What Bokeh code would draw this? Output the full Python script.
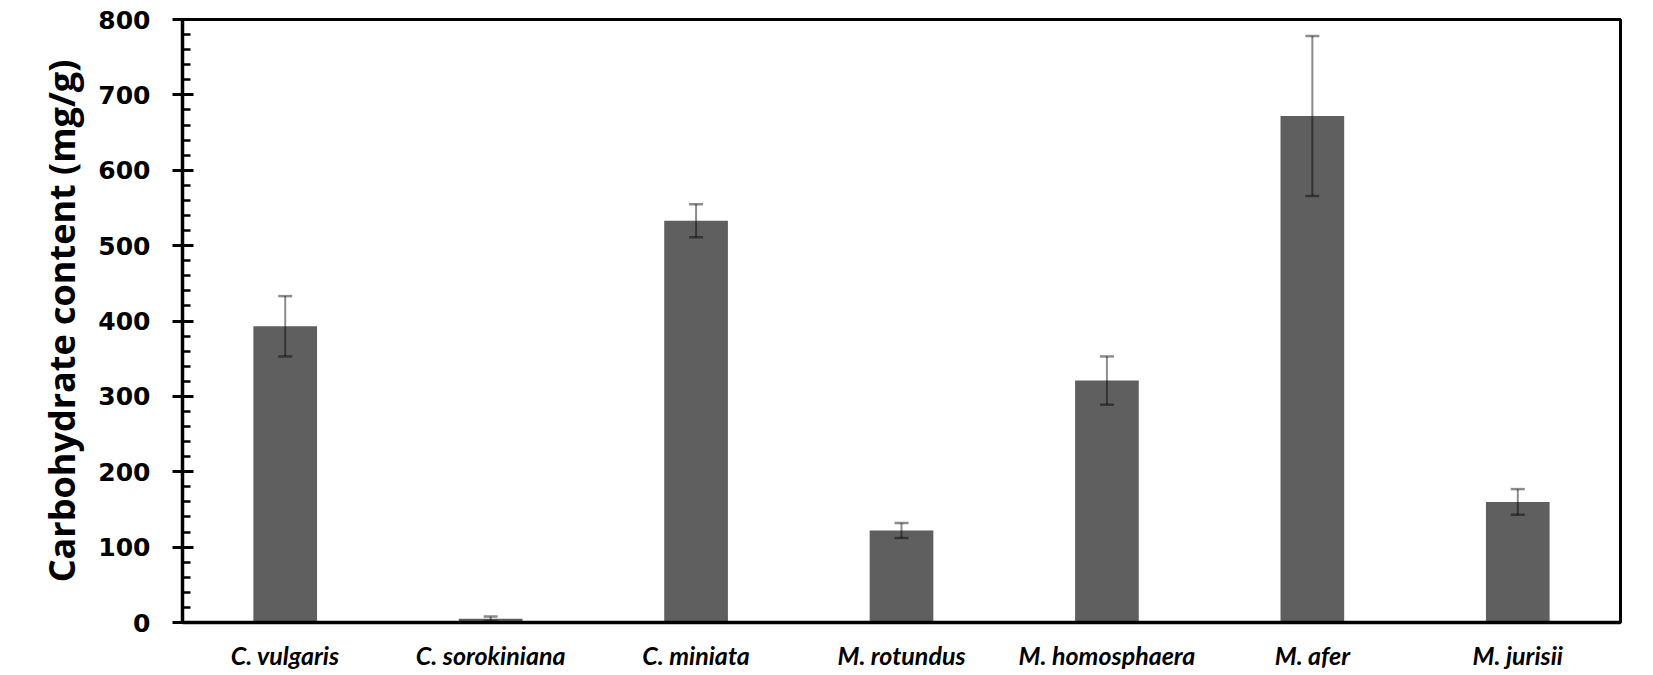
from bokeh.plotting import figure
from bokeh.models import ColumnDataSource, FactorRange, Range1d, SingleIntervalTicker, Whisker, TeeHead
from bokeh.embed import file_html
from bokeh.resources import INLINE

# Carbohydrate content per strain (mg/g), mean and error
species = ["C. vulgaris", "C. sorokiniana", "C. miniata", "M. rotundus",
           "M. homosphaera", "M. afer", "M. jurisii"]
carbohydrate = [393, 5, 533, 122, 321, 672, 160]
error = [40, 3, 22, 10, 32, 106, 17]

source = ColumnDataSource(data=dict(
    species=species,
    value=carbohydrate,
    upper=[v + e for v, e in zip(carbohydrate, error)],
    lower=[v - e for v, e in zip(carbohydrate, error)],
))

p = figure(
    width=1653, height=675,
    x_range=FactorRange(*species, range_padding=0),
    y_range=Range1d(0, 800),
    output_backend="svg", toolbar_location=None, tools="",
    min_border_left=182, min_border_right=33, min_border_top=19, min_border_bottom=53,
)

p.vbar(x="species", top="value", width=0.31, source=source,
       fill_color="#5f5f5f", line_color=None)

# semi-transparent error bars, drawn over the bars
err_color = "black"
err_alpha = 0.45
whisk = Whisker(
    base="species", upper="upper", lower="lower", source=source,
    level="overlay",
    line_color=err_color, line_alpha=err_alpha, line_width=2,
    upper_head=TeeHead(size=14, line_color=err_color, line_alpha=err_alpha, line_width=2.5),
    lower_head=TeeHead(size=14, line_color=err_color, line_alpha=err_alpha, line_width=2.5),
)
p.add_layout(whisk)

# frame
p.outline_line_color = "black"
p.outline_line_width = 3
p.outline_line_alpha = 1
p.xgrid.grid_line_color = None
p.ygrid.grid_line_color = None
p.background_fill_color = "white"
p.border_fill_color = "white"

# y axis
p.yaxis.ticker = SingleIntervalTicker(interval=100, num_minor_ticks=5)
p.yaxis.axis_line_width = 3.5
p.yaxis.axis_line_color = "black"
p.yaxis.major_tick_line_width = 3
p.yaxis.major_tick_line_color = "black"
p.yaxis.major_tick_out = 10
p.yaxis.major_tick_in = 11
p.yaxis.minor_tick_line_width = 2.5
p.yaxis.minor_tick_line_color = "black"
p.yaxis.minor_tick_out = 0
p.yaxis.minor_tick_in = 8
p.yaxis.major_label_text_font = "DejaVu Sans"
p.yaxis.major_label_text_font_style = "bold"
p.yaxis.major_label_text_font_size = "25px"
p.yaxis.major_label_text_color = "black"
p.yaxis.major_label_standoff = 22
p.yaxis.axis_label = "Carbohydrate content (mg/g)"
p.yaxis.axis_label_text_font = "Open Sans"
p.yaxis.axis_label_text_font_style = "bold"
p.yaxis.axis_label_text_font_size = "36px"
p.yaxis.axis_label_text_color = "black"
p.yaxis.axis_label_standoff = 9

# x axis
p.xaxis.axis_line_width = 3.5
p.xaxis.axis_line_color = "black"
p.xaxis.major_tick_line_color = None
p.xaxis.minor_tick_line_color = None
p.xaxis.major_tick_out = 0
p.xaxis.major_tick_in = 0
p.xaxis.major_label_text_font = "Lato"
p.xaxis.major_label_text_font_style = "bold italic"
p.xaxis.major_label_text_font_size = "25px"
p.xaxis.major_label_text_color = "black"
p.xaxis.major_label_standoff = 17

open("out.html", "w").write(file_html(p, INLINE))
